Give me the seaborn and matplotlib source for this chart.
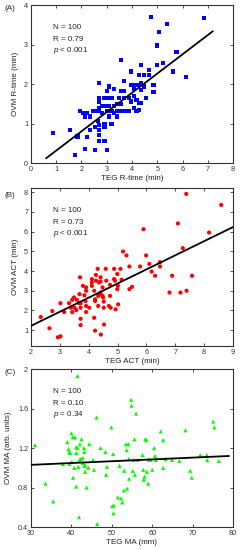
import numpy as np
import matplotlib
matplotlib.use('Agg')
import matplotlib.pyplot as plt
import seaborn as sns

# panel A: R-time (min)
teg_r = [0.87, 1.53, 1.75, 1.84, 1.93, 2.05, 2.14, 2.14, 2.23, 2.23, 2.33, 2.33, 2.44, 2.52,
         2.55, 2.61, 2.66, 2.71, 2.68, 2.71, 2.71, 2.71, 2.71, 2.71, 2.71, 2.71, 2.81, 2.81,
         2.91, 2.91, 2.91, 2.91, 2.91, 3.01, 3.01, 3.01, 3.01, 3.10, 3.10, 3.10, 3.10, 3.19,
         3.19, 3.19, 3.29, 3.29, 3.29, 3.39, 3.39, 3.39, 3.49, 3.49, 3.58, 3.58, 3.58, 3.58,
         3.68, 3.68, 3.68, 3.68, 3.77, 3.88, 3.88, 3.97, 3.97, 3.97, 4.07, 4.07, 4.07, 4.07,
         4.18, 4.18, 4.18, 4.27, 4.27, 4.27, 4.29, 4.36, 4.36, 4.36, 4.36, 4.46, 4.46, 4.55,
         4.66, 4.66, 4.76, 4.85, 4.85, 4.98, 4.98, 5.08, 5.24, 5.37, 5.63, 5.76, 6.15, 6.84]
ovm_r = [0.77, 0.84, 0.20, 0.67, 1.32, 1.27, 1.18, 0.36, 1.27, 0.65, 1.18, 0.84, 1.32, 0.33,
         0.91, 1.32, 1.07, 1.32, 0.84, 2.03, 1.64, 1.56, 1.39, 0.97, 0.72, 0.55, 1.45, 1.27,
         1.64, 1.45, 0.99, 0.91, 0.55, 1.64, 1.32, 0.33, 1.83, 1.64, 1.45, 1.18, 1.94, 1.64,
         1.32, 0.99, 1.27, 1.45, 1.87, 1.32, 1.18, 1.50, 1.32, 1.64, 1.32, 1.50, 2.62, 1.83,
         1.83, 1.64, 1.32, 2.08, 1.32, 1.64, 1.32, 2.32, 1.98, 1.56, 1.98, 1.69, 1.39, 1.87,
         1.98, 1.32, 1.60, 2.24, 1.98, 1.52, 1.35, 2.49, 1.86, 1.52, 2.03, 2.24, 1.94, 1.65,
         2.36, 2.24, 3.71, 1.98, 1.81, 2.49, 2.98, 3.31, 2.53, 3.53, 2.32, 2.81, 2.17, 3.67]

# panel B: ACT (min)
teg_act = [2.34, 2.64, 2.74, 2.93, 3.02, 3.02, 3.15, 3.32, 3.38, 3.43, 3.43, 3.49, 3.51, 3.57,
           3.59, 3.66, 3.68, 3.70, 3.72, 3.72, 3.72, 3.72, 3.80, 3.85, 3.89, 3.91, 3.91, 3.91,
           3.91, 4.02, 4.11, 4.11, 4.11, 4.19, 4.19, 4.22, 4.22, 4.22, 4.25, 4.25, 4.31, 4.33,
           4.33, 4.36, 4.39, 4.41, 4.41, 4.41, 4.42, 4.48, 4.48, 4.50, 4.52, 4.52, 4.53, 4.59,
           4.61, 4.70, 4.74, 4.74, 4.76, 4.88, 4.88, 4.91, 4.93, 4.99, 4.99, 5.01, 5.02, 5.10,
           5.14, 5.19, 5.31, 5.41, 5.41, 5.50, 5.78, 5.90, 5.99, 6.10, 6.18, 6.30, 6.47, 6.47,
           6.80, 6.89, 7.09, 7.18, 7.26, 7.38, 7.39, 7.58, 8.17, 8.59]
ovm_act = [1.67, 1.10, 1.97, 0.64, 0.69, 2.37, 1.92, 2.37, 2.14, 2.54, 1.92, 2.66, 2.14, 2.02,
           2.54, 2.37, 2.83, 3.68, 2.37, 2.14, 1.58, 1.26, 3.25, 2.77, 2.48, 3.17, 3.00, 2.23,
           1.92, 2.14, 3.42, 3.59, 3.25, 3.00, 1.63, 2.57, 2.48, 0.98, 3.80, 3.51, 4.11, 2.74,
           2.23, 3.42, 2.83, 3.68, 3.47, 2.91, 0.78, 3.17, 2.74, 2.66, 2.45, 2.14, 1.29, 4.11,
           3.51, 2.23, 3.30, 2.74, 2.14, 3.59, 4.11, 3.51, 2.06, 3.85, 3.08, 3.25, 2.31, 4.11,
           3.56, 4.99, 4.79, 4.23, 3.08, 3.20, 4.23, 6.12, 4.79, 4.36, 3.97, 3.76, 4.45, 4.23,
           2.91, 3.76, 6.41, 2.91, 5.16, 7.91, 3.00, 3.76, 5.95, 7.35]

# panel C: MA (mm)
teg_ma = [31.0, 33.6, 35.5, 37.9, 39.0, 39.3, 39.5, 39.7, 39.5, 40.0, 40.3, 40.1, 40.4, 40.7,
          40.9, 41.2, 41.2, 41.2, 41.5, 41.5, 41.7, 41.9, 42.0, 42.1, 42.3, 42.5, 42.8, 42.9,
          43.1, 43.2, 43.2, 43.4, 43.5, 43.8, 44.2, 44.4, 45.4, 45.6, 46.2, 46.4, 47.2, 48.4,
          48.6, 48.8, 49.9, 50.1, 50.3, 50.4, 50.5, 51.5, 51.9, 52.3, 52.6, 53.0, 53.1, 53.5,
          53.7, 53.8, 54.1, 54.2, 54.3, 54.8, 54.9, 55.2, 55.3, 55.6, 55.7, 56.0, 56.4, 57.6,
          57.8, 57.9, 58.1, 58.3, 58.6, 58.7, 59.0, 59.2, 59.6, 60.0, 60.5, 60.7, 60.9, 62.1,
          62.7, 62.7, 63.3, 64.9, 66.7, 68.2, 69.4, 69.8, 71.9, 73.5, 73.6, 75.1, 75.4, 76.5]
ovm_ma = [1.23, 0.84, 0.66, 1.04, 1.26, 1.19, 1.16, 1.15, 1.04, 1.35, 1.31, 1.06, 0.90, 1.00,
          1.31, 1.21, 1.15, 0.81, 1.93, 1.20, 1.01, 0.50, 1.08, 1.24, 1.09, 1.29, 1.10, 1.05,
          1.20, 1.16, 1.02, 0.96, 1.02, 0.80, 1.00, 1.24, 1.08, 0.98, 1.51, 0.43, 1.20, 1.16,
          0.93, 1.01, 1.41, 0.61, 1.14, 0.54, 0.62, 0.70, 1.02, 0.69, 0.65, 0.77, 0.97, 1.24,
          1.18, 0.79, 1.24, 1.09, 0.89, 1.69, 1.63, 0.97, 1.08, 1.29, 0.93, 1.55, 1.08, 1.13,
          0.98, 0.88, 0.91, 1.29, 1.28, 0.96, 0.84, 1.08, 1.08, 0.98, 1.20, 1.12, 1.08, 1.37,
          1.28, 1.00, 1.09, 1.08, 1.07, 1.38, 0.97, 0.90, 1.13, 1.13, 1.08, 1.47, 1.41, 1.07]

# fitted lines: (x start, x end), (y start, y end)
fit_x_a, fit_y_a = [0.6, 7.2], [0.12, 3.34]
fit_x_b, fit_y_b = [2.0, 9.0], [1.22, 6.23]
fit_x_c, fit_y_c = [30.0, 79.0], [1.03, 1.12]

stats_a = ['N = 100', 'R = 0.79', '$p$ < 0.001']
stats_b = ['N = 100', 'R = 0.73', '$p$ < 0.001']
stats_c = ['N = 100', 'R = 0.10', '$p$ = 0.34']

sns.set_style('ticks')
plt.rcParams['font.family'] = ['Liberation Sans', 'DejaVu Sans']
plt.rcParams['mathtext.fontset'] = 'custom'
plt.rcParams['mathtext.it'] = 'Liberation Sans:italic'

fig = plt.figure(figsize=(2.4, 5.5), dpi=100)
fig.patch.set_facecolor('white')

panels = [
    dict(x=teg_r, y=ovm_r, fx=fit_x_a, fy=fit_y_a, stats=stats_a, tag='(A)', color='#0000ff', marker='s',
         xlim=(0, 8), ylim=(0, 4), xt=range(0, 9), yt=range(0, 5), yfmt=None,
         xl='TEG R-time (min)', yl='OVM R-time (min)', rect=[0.129, 0.7036, 0.842, 0.287], tagy=0.985),
    dict(x=teg_act, y=ovm_act, fx=fit_x_b, fy=fit_y_b, stats=stats_b, tag='(B)', color='#ff0000', marker='o',
         xlim=(2, 9), ylim=(0.2, 8.2), xt=range(2, 10), yt=range(1, 9), yfmt=None,
         xl='TEG ACT (min)', yl='OVM ACT (min)', rect=[0.129, 0.3709, 0.842, 0.287], tagy=0.645),
    dict(x=teg_ma, y=ovm_ma, fx=fit_x_c, fy=fit_y_c, stats=stats_c, tag='(C)', color='#00ff00', marker='^',
         xlim=(30, 80), ylim=(0.4, 2.0), xt=range(30, 90, 10), yt=[0.4, 0.8, 1.2, 1.6, 2.0],
         yfmt=['0.4', '0.8', '1.2', '1.6', '2'],
         xl='TEG MA (mm)', yl='OVM MA (arb. units)', rect=[0.129, 0.0418, 0.842, 0.287], tagy=0.322),
]

for p in panels:
    ax = fig.add_axes(p['rect'])
    sns.scatterplot(x=p['x'], y=p['y'], marker=p['marker'], color=p['color'], s=9,
                    edgecolor='none', linewidth=0, ax=ax, zorder=3)
    sns.lineplot(x=p['fx'], y=p['fy'], color='black', linewidth=1.3, ax=ax, zorder=4)
    ax.set_xlim(p['xlim'])
    ax.set_ylim(p['ylim'])
    ax.set_xticks(list(p['xt']))
    ax.set_yticks(list(p['yt']))
    if p['yfmt']:
        ax.set_yticklabels(p['yfmt'])
    ax.tick_params(direction='in', length=2.5, width=0.6, labelsize=5.2, pad=2,
                   top=True, right=True, colors='#333333')
    for sp in ax.spines.values():
        sp.set_linewidth(0.8)
        sp.set_color('#333333')
    ax.set_xlabel(p['xl'], fontsize=5.8, labelpad=1.5, color='#222222')
    ax.set_ylabel(p['yl'], fontsize=5.8, labelpad=4, color='#222222')
    for i, t in enumerate(p['stats']):
        ax.text(0.11, 0.86 - i * 0.075, t, transform=ax.transAxes, fontsize=5.8,
                va='center', ha='left', color='#222222')
    fig.text(0.02, p['tagy'], p['tag'], fontsize=5.8, va='center', ha='left', color='#222222')

fig.savefig('out.png', dpi=100, facecolor='white')
